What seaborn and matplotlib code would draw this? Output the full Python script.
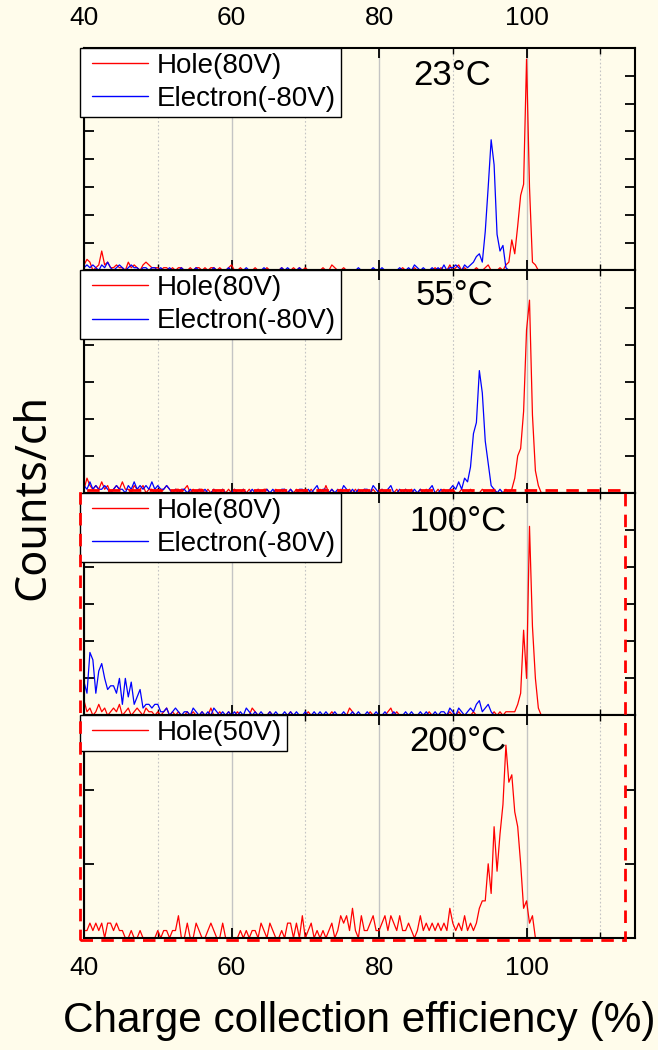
import numpy as np
import pandas as pd
import matplotlib
matplotlib.use("Agg")
import matplotlib.pyplot as plt
from matplotlib.lines import Line2D
from matplotlib.legend_handler import HandlerLine2D
from matplotlib.patches import Rectangle
from matplotlib.ticker import MultipleLocator
import seaborn as sns

# channel axis: 0.4 % wide bins starting at 40 %
cce_start = 40.0
cce_step = 0.4

# counts per channel (10 % per row)
hole_23 = [2, 4, 3, 0, 1, 2, 7, 2, 3, 1, 1, 2, 1, 1, 0, 3, 1, 2, 1, 0, 2, 3, 2, 1, 1,
           1, 0, 1, 1, 0, 1, 0, 1, 1, 0, 0, 1, 0, 1, 1, 0, 1, 0, 1, 1, 0, 1, 0, 0, 1,
           2, 0, 0, 1, 0, 0, 0, 0, 1, 0, 0, 0, 1, 0, 0, 0, 0, 1, 0, 0, 0, 1, 0, 1, 0,
           1, 0, 0, 0, 0, 0, 1, 0, 0, 2, 1, 0, 0, 1, 0, 0, 0, 0, 0, 0, 0, 0, 0, 0, 0,
           0, 0, 0, 0, 0, 0, 0, 0, 1, 0, 0, 0, 1, 0, 0, 0, 0, 0, 0, 1, 0, 1, 0, 0, 2,
           0, 1, 2, 0, 1, 0, 0, 0, 1, 0, 0, 1, 2, 0, 0, 0, 1, 0, 2, 3, 11, 6, 16, 27, 31,
           76, 30, 3, 2, 0, 0, 0, 0, 0, 0, 0, 0, 0]
electron_23 = [1, 2, 1, 2, 1, 0, 2, 1, 3, 1, 0, 1, 2, 1, 0, 1, 2, 1, 1, 0, 1, 1, 0, 1, 1,
               0, 1, 0, 0, 1, 0, 0, 0, 1, 0, 0, 0, 0, 1, 0, 0, 0, 0, 0, 1, 0, 0, 0, 0, 1,
               0, 0, 0, 0, 0, 1, 0, 0, 0, 0, 0, 1, 0, 0, 0, 0, 0, 1, 0, 1, 0, 0, 0, 1, 0,
               0, 0, 0, 0, 0, 0, 0, 0, 0, 0, 0, 0, 0, 0, 0, 0, 0, 0, 1, 0, 0, 0, 0, 1, 0,
               0, 1, 0, 0, 0, 0, 0, 1, 0, 0, 1, 0, 2, 1, 0, 1, 0, 0, 1, 0, 1, 0, 2, 0, 1,
               1, 2, 1, 0, 2, 1, 2, 3, 5, 6, 3, 14, 30, 47, 38, 13, 7, 9, 1, 0, 0, 0, 0, 0, 0,
               0, 0, 0, 0, 0, 0, 0, 0, 0, 0, 0, 0, 0]
hole_55 = [1, 4, 2, 1, 2, 1, 3, 1, 2, 0, 1, 2, 1, 3, 1, 1, 0, 2, 1, 1, 2, 0, 1, 1, 0,
           1, 0, 1, 2, 1, 0, 1, 1, 0, 1, 2, 0, 1, 0, 1, 1, 0, 1, 0, 1, 0, 0, 1, 0, 1,
           0, 1, 0, 0, 1, 0, 1, 0, 0, 1, 0, 1, 1, 0, 0, 1, 0, 0, 1, 0, 1, 0, 1, 0, 0,
           1, 0, 1, 0, 0, 1, 0, 2, 0, 1, 0, 0, 1, 0, 0, 1, 0, 1, 0, 0, 1, 0, 0, 1, 0,
           0, 1, 0, 1, 0, 0, 1, 0, 0, 1, 0, 1, 0, 0, 1, 0, 1, 0, 0, 0, 1, 0, 1, 0, 0,
           1, 0, 0, 1, 0, 0, 1, 0, 0, 0, 1, 0, 0, 0, 1, 0, 0, 0, 1, 0, 1, 4, 10, 12, 22,
           44, 52, 21, 6, 2, 0, 0, 0, 0, 0, 0, 0, 0]
electron_55 = [2, 1, 3, 1, 2, 1, 1, 2, 1, 0, 1, 2, 1, 1, 0, 2, 1, 3, 1, 2, 1, 2, 1, 3, 1,
               2, 1, 1, 2, 1, 0, 1, 0, 1, 1, 0, 1, 0, 0, 1, 0, 1, 0, 0, 1, 0, 0, 1, 0, 0,
               0, 1, 0, 0, 1, 0, 0, 1, 0, 1, 0, 0, 1, 0, 1, 0, 0, 1, 1, 0, 1, 0, 0, 1, 1,
               0, 1, 0, 1, 2, 0, 1, 1, 0, 1, 0, 1, 0, 2, 1, 0, 1, 0, 1, 0, 1, 1, 0, 2, 1,
               0, 1, 0, 1, 2, 0, 0, 1, 0, 1, 0, 0, 1, 0, 1, 0, 0, 1, 2, 0, 0, 1, 0, 0, 1,
               2, 1, 3, 1, 4, 3, 7, 16, 19, 33, 27, 14, 8, 2, 1, 0, 1, 0, 0, 0, 0, 0, 0, 0, 0,
               0, 0, 0, 0, 0, 0, 0, 0, 0, 0, 0, 0, 0]
hole_100 = [4, 1, 2, 0, 1, 3, 1, 2, 0, 1, 2, 1, 3, 0, 1, 2, 0, 1, 2, 1, 0, 2, 1, 1, 0,
            1, 0, 1, 2, 0, 1, 0, 1, 0, 0, 1, 0, 1, 0, 0, 1, 0, 0, 2, 0, 0, 1, 0, 0, 1,
            0, 0, 1, 0, 0, 0, 0, 2, 1, 0, 0, 0, 0, 1, 0, 0, 0, 0, 0, 0, 1, 0, 0, 0, 0,
            0, 1, 0, 0, 0, 0, 0, 0, 0, 1, 0, 0, 0, 0, 0, 2, 1, 0, 0, 0, 0, 0, 1, 0, 0,
            0, 0, 0, 1, 2, 0, 1, 0, 0, 0, 0, 0, 0, 0, 0, 0, 0, 1, 0, 0, 0, 0, 0, 0, 1,
            0, 0, 1, 0, 0, 0, 0, 1, 0, 0, 0, 0, 0, 0, 1, 0, 1, 0, 1, 1, 1, 1, 3, 6, 23,
            10, 51, 24, 10, 2, 0, 0, 0, 0, 0, 0, 0, 0]
electron_100 = [9, 6, 17, 15, 6, 12, 14, 10, 7, 8, 8, 6, 10, 3, 10, 5, 9, 3, 5, 7, 2, 3, 3, 2, 3,
                3, 1, 1, 2, 0, 1, 2, 1, 0, 1, 1, 0, 2, 1, 0, 1, 0, 1, 0, 2, 1, 0, 1, 0, 1,
                0, 1, 0, 1, 0, 2, 1, 0, 1, 0, 1, 0, 0, 1, 0, 1, 0, 0, 1, 0, 1, 0, 1, 0, 0,
                1, 0, 0, 1, 0, 1, 0, 1, 0, 0, 1, 0, 0, 1, 0, 0, 1, 0, 1, 0, 0, 1, 0, 0, 1,
                0, 0, 1, 0, 0, 1, 0, 0, 0, 1, 0, 1, 0, 0, 1, 0, 1, 0, 0, 1, 0, 1, 1, 0, 2,
                1, 0, 2, 1, 0, 1, 2, 1, 3, 4, 1, 2, 3, 1, 0, 0, 0, 0, 0, 0, 0, 0, 0, 0, 0,
                0, 0, 0, 0, 0, 0, 0, 0, 0, 0, 0, 0, 0]
hole_200 = [1, 1, 2, 1, 2, 1, 2, 0, 2, 2, 1, 2, 1, 1, 0, 0, 1, 0, 0, 1, 0, 0, 0, 0, 0,
            1, 0, 1, 1, 0, 1, 1, 3, 0, 0, 2, 0, 0, 2, 1, 0, 0, 1, 2, 1, 0, 0, 2, 0, 0,
            0, 0, 0, 1, 0, 1, 0, 1, 1, 0, 2, 1, 0, 2, 1, 0, 0, 1, 0, 2, 2, 0, 2, 0, 3,
            0, 1, 2, 0, 1, 0, 1, 0, 1, 2, 0, 1, 3, 2, 3, 1, 4, 1, 0, 3, 1, 1, 2, 3, 1,
            1, 2, 3, 1, 3, 2, 1, 3, 1, 1, 2, 1, 0, 1, 3, 1, 2, 1, 2, 1, 2, 1, 2, 1, 4,
            2, 1, 2, 1, 3, 1, 2, 1, 2, 4, 5, 5, 10, 6, 15, 9, 14, 18, 26, 21, 22, 17, 15, 10, 4,
            5, 2, 3, 0, 0, 0, 0, 0, 0, 0, 0, 0, 0]

temperatures = ["23°C", "55°C", "100°C", "200°C"]
panel_series = [
    [("Hole(80V)", hole_23, "#FF0000"), ("Electron(-80V)", electron_23, "#0000FF")],
    [("Hole(80V)", hole_55, "#FF0000"), ("Electron(-80V)", electron_55, "#0000FF")],
    [("Hole(80V)", hole_100, "#FF0000"), ("Electron(-80V)", electron_100, "#0000FF")],
    [("Hole(50V)", hole_200, "#FF0000")],
]
panel_ymax = [80, 60, 60, 30]
label_pos = [(0.597, 0.878), (0.601, 0.887), (0.590, 0.870), (0.590, 0.883)]

bg = "#FFFCEB"
sns.set_style("ticks")
plt.rcParams["font.family"] = ["Liberation Sans", "DejaVu Sans"]
for key in ["text.color", "axes.labelcolor", "xtick.color", "ytick.color", "axes.edgecolor"]:
    plt.rcParams[key] = "black"

fig = plt.figure(figsize=(6.58, 10.5), dpi=100, facecolor=bg)
gs = fig.add_gridspec(4, 1, left=0.1277, right=0.965, top=0.9543, bottom=0.1067, hspace=0)

for k, series in enumerate(panel_series):
    ax = fig.add_subplot(gs[k])
    ax.set_facecolor(bg)
    for label, counts, color in series:
        cce = cce_start + cce_step * np.arange(len(counts))
        df = pd.DataFrame({"cce": cce, "counts": counts})
        sns.lineplot(data=df, x="cce", y="counts", color=color, lw=0.9,
                     label=label, ax=ax)
    ax.set_xlim(40, 114.7)
    ax.set_ylim(0, panel_ymax[k])
    ax.set_xlabel("")
    ax.set_ylabel("")
    ax.xaxis.set_major_locator(MultipleLocator(20))
    ax.xaxis.set_minor_locator(MultipleLocator(10))
    ax.yaxis.set_major_locator(MultipleLocator(10))
    ax.set_axisbelow(True)
    ax.grid(which="major", axis="x", color="#c4c4c4", lw=1.0, ls="-")
    ax.grid(which="minor", axis="x", color="#c4c4c4", lw=0.8, ls=(0, (1.5, 2)))
    ax.tick_params(which="both", direction="in", top=True, right=True,
                   labelleft=False, labelbottom=(k == 3), labeltop=(k == 0))
    ax.tick_params(which="major", length=7, width=1.3, pad=13, labelsize=19)
    ax.tick_params(which="minor", length=4, width=1.0)
    for sp in ax.spines.values():
        sp.set_linewidth(1.5)

    leg = ax.legend(loc="upper left", bbox_to_anchor=(-0.007, 1.0), borderaxespad=0,
                    fontsize=20, frameon=True, fancybox=False, framealpha=1,
                    edgecolor="black", facecolor="white", handlelength=2.27,
                    handletextpad=0.32, labelspacing=0.26, borderpad=0.17,
                    handler_map={Line2D: HandlerLine2D(xpad=0.27)})
    leg.get_frame().set_linewidth(1.0)
    for line in leg.get_lines():
        line.set_linewidth(1.0)
    leg.set_zorder(5)

    tx, ty = label_pos[k]
    ax.text(tx, ty, temperatures[k], transform=ax.transAxes, fontsize=25,
            ha="left", va="center", zorder=6,
            family=["Liberation Sans Narrow", "Liberation Sans"])

    if k == 3:
        ax.set_xlabel("Charge collection efficiency (%)", fontsize=30.5, labelpad=15)

fig.text(0.05, 0.527, "Counts/ch", rotation=90, fontsize=31, ha="center", va="center",
         family=["Noto Sans", "DejaVu Sans"])

# red dashed frame around the 100 and 200 degree panels
frame = Rectangle((80 / 658, 1 - 940 / 1050), 545 / 658, 450 / 1050,
                  transform=fig.transFigure, fill=False, edgecolor="#FF0000",
                  lw=2.0, ls=(0, (4.5, 3)), zorder=10)
fig.patches.append(frame)

fig.savefig("out.png", dpi=100, facecolor=bg)
